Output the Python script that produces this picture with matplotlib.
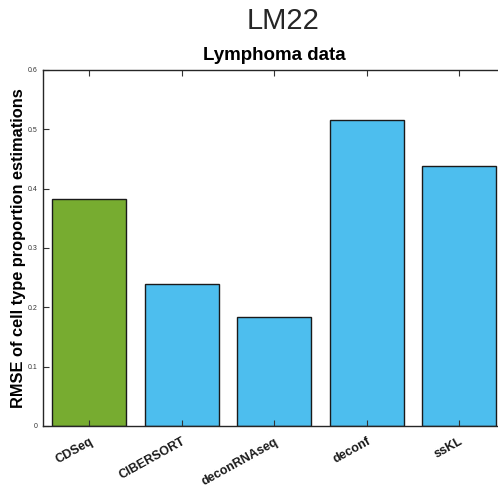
import matplotlib
matplotlib.use("Agg")
import matplotlib.pyplot as plt

methods = ["CDSeq", "CIBERSORT", "deconRNAseq", "deconf", "ssKL"]
rmse = [0.383, 0.240, 0.183, 0.516, 0.438]
colors = ["#77AC30", "#4DBEEE", "#4DBEEE", "#4DBEEE", "#4DBEEE"]
yticks = [0, 0.1, 0.2, 0.3, 0.4, 0.5, 0.6]
ytick_labels = ["0", "0.1", "0.2", "0.3", "0.4", "0.5", "0.6"]

plt.rcParams['font.family'] = ['Liberation Sans', 'DejaVu Sans']

fig = plt.figure(figsize=(4.98, 4.88), dpi=100)
ax = fig.add_axes([43/498, 62/488, 462.5/498, 356/488])

x = list(range(1, len(methods) + 1))
ax.bar(x, rmse, width=0.8, color=colors, edgecolor="#1a1a1a", linewidth=1.0)
ax.set_xlim(0.5, 5.5)
ax.set_ylim(0, 0.6)
ax.set_yticks(yticks)
ax.set_yticklabels(ytick_labels, fontsize=5, color="#333333")
ax.set_xticks(x)
ax.set_xticklabels(methods, rotation=29, ha="right", rotation_mode="anchor",
                   fontsize=9, fontweight="bold", color="#1a1a1a")
ax.tick_params(axis="x", direction="in", top=True, length=4, width=0.8, color="#333333", pad=7)
ax.tick_params(axis="y", direction="in", length=4, width=0.8, color="#333333", pad=4)
for s in ["left", "bottom", "top"]:
    ax.spines[s].set_linewidth(1.0)
    ax.spines[s].set_color("#262626")
ax.spines["right"].set_visible(False)

ax.set_ylabel("RMSE of cell type proportion estimations", fontsize=11.8, fontweight="bold", labelpad=1)
ax.set_title("Lymphoma data", fontsize=13.5, fontweight="bold", pad=7)
fig.text(283/498, 1 - 21/488, "LM22", fontsize=21, color="#262626", ha="center", va="center")

fig.savefig("out.png", dpi=100)
